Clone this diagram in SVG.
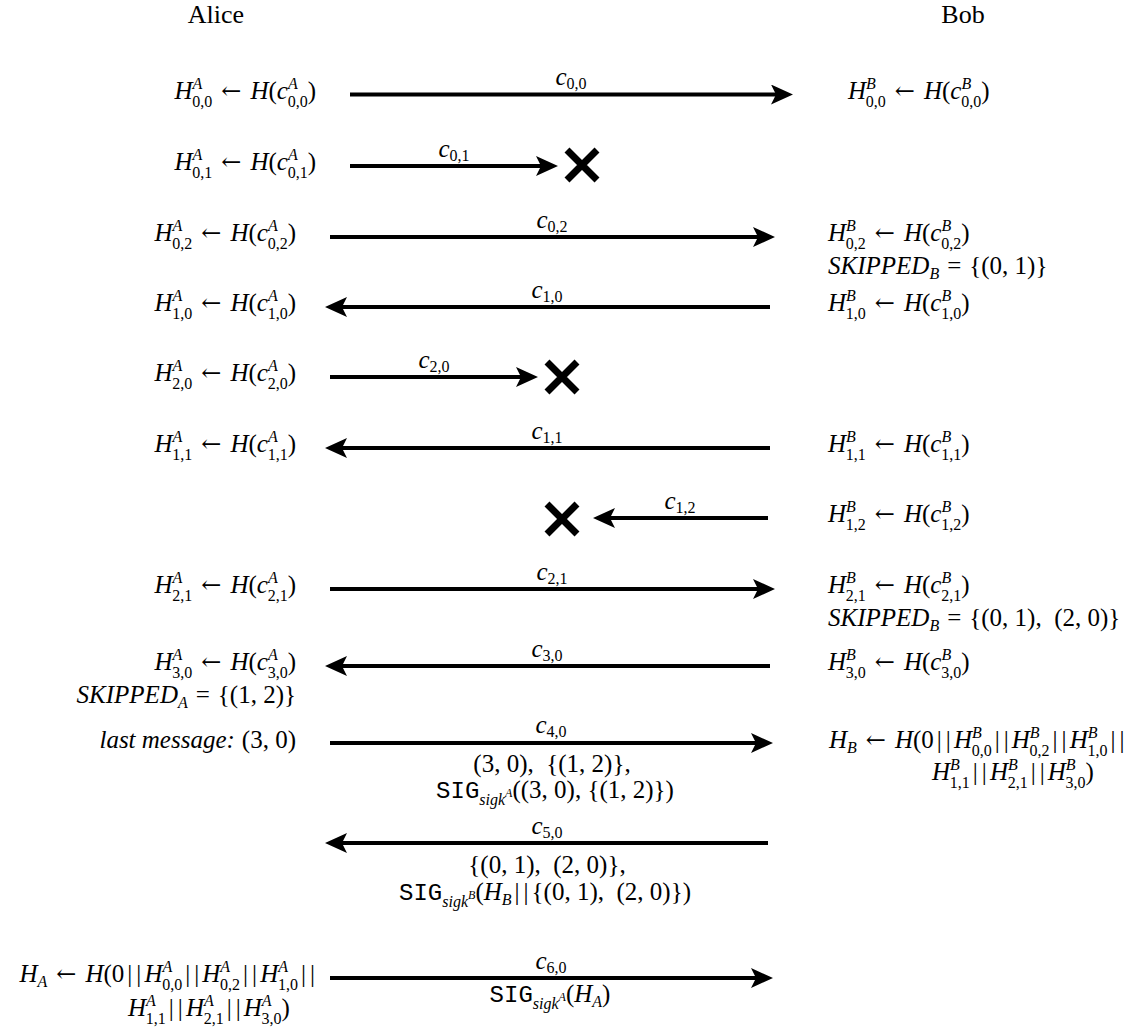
<svg xmlns="http://www.w3.org/2000/svg" width="1138" height="1032" viewBox="0 0 1138 1032">
<style>
text{font-family:"Liberation Serif","DejaVu Serif",serif;font-size:25px;fill:#000}
.i{font-style:italic}
.s{font-size:16px}
.ss{font-size:12px}
.a{font-family:"DejaVu Serif",serif;font-size:24px}
.tt{font-family:"Liberation Mono","DejaVu Sans Mono",monospace;font-size:24px}
.ar{stroke:#000;stroke-width:4;fill:none;marker-end:url(#hd)}
.x{stroke:#000;stroke-width:7;fill:none}
</style>
<defs>
<marker id="hd" markerUnits="userSpaceOnUse" viewBox="0 -10 22 20" markerWidth="22" markerHeight="20" refX="5" refY="0" orient="auto"><path d="M22,0 L0,-10 L5,0 L0,10 Z" fill="#000"/></marker>
<path id="xm" d="M-15,-15 L15,15 M-15,15 L15,-15"/>
</defs>
<rect width="1138" height="1032" fill="#fff"/>
<g id="header">
<text x="216" y="23" text-anchor="middle" style="font-size:26px">Alice</text>
<text x="963" y="23" text-anchor="middle" style="font-size:26px">Bob</text>
</g>
<g id="connectors">
<line class="ar" x1="350" y1="94.5" x2="776" y2="94.5"/>
<line class="ar" x1="350" y1="166" x2="541" y2="166"/>
<line class="ar" x1="330" y1="237" x2="758" y2="237"/>
<line class="ar" x1="770" y1="307" x2="342" y2="307"/>
<line class="ar" x1="330" y1="377" x2="521" y2="377"/>
<line class="ar" x1="770" y1="448" x2="342" y2="448"/>
<line class="ar" x1="768" y1="518" x2="610" y2="518"/>
<line class="ar" x1="330" y1="589" x2="758" y2="589"/>
<line class="ar" x1="770" y1="666" x2="342" y2="666"/>
<line class="ar" x1="330" y1="743" x2="756" y2="743"/>
<line class="ar" x1="768" y1="843" x2="342" y2="843"/>
<line class="ar" x1="330" y1="978" x2="756" y2="978"/>
</g>
<g id="drops">
<use href="#xm" class="x" x="582" y="165"/>
<use href="#xm" class="x" x="562" y="377"/>
<use href="#xm" class="x" x="562" y="519"/>
</g>
<g id="labels">
<text x="571" y="85" text-anchor="middle"><tspan class="i">c</tspan><tspan class="s" dy="4">0,0</tspan></text>
<text x="454" y="157" text-anchor="middle"><tspan class="i">c</tspan><tspan class="s" dy="4">0,1</tspan></text>
<text x="552" y="228" text-anchor="middle"><tspan class="i">c</tspan><tspan class="s" dy="4">0,2</tspan></text>
<text x="547" y="298" text-anchor="middle"><tspan class="i">c</tspan><tspan class="s" dy="4">1,0</tspan></text>
<text x="434" y="368" text-anchor="middle"><tspan class="i">c</tspan><tspan class="s" dy="4">2,0</tspan></text>
<text x="547" y="439" text-anchor="middle"><tspan class="i">c</tspan><tspan class="s" dy="4">1,1</tspan></text>
<text x="680" y="509" text-anchor="middle"><tspan class="i">c</tspan><tspan class="s" dy="4">1,2</tspan></text>
<text x="552" y="580" text-anchor="middle"><tspan class="i">c</tspan><tspan class="s" dy="4">2,1</tspan></text>
<text x="547" y="657" text-anchor="middle"><tspan class="i">c</tspan><tspan class="s" dy="4">3,0</tspan></text>
<text x="551" y="733" text-anchor="middle"><tspan class="i">c</tspan><tspan class="s" dy="4">4,0</tspan></text>
<text x="547" y="834" text-anchor="middle"><tspan class="i">c</tspan><tspan class="s" dy="4">5,0</tspan></text>
<text x="551" y="969" text-anchor="middle"><tspan class="i">c</tspan><tspan class="s" dy="4">6,0</tspan></text>
<text x="552" y="772" text-anchor="middle">(3, 0),&#160;&#160;{(1, 2)},</text>
<text x="555" y="798" text-anchor="middle"><tspan class="tt">SIG</tspan><tspan class="s i" dy="7">sigk</tspan><tspan class="ss i" dy="-8">A</tspan><tspan dy="1">((3, 0), {(1, 2)})</tspan></text>
<text x="547" y="873" text-anchor="middle">{(0, 1),&#160;&#160;(2, 0)},</text>
<text x="545" y="900" text-anchor="middle"><tspan class="tt">SIG</tspan><tspan class="s i" dy="7">sigk</tspan><tspan class="ss i" dy="-8">B</tspan><tspan dy="1">(</tspan><tspan class="i">H</tspan><tspan class="s i" dy="5">B</tspan><tspan dy="-5" dx="3">|</tspan><tspan dx="4">|</tspan><tspan dx="3">{(0, 1),&#160;&#160;(2, 0)})</tspan></text>
<text x="550" y="1002" text-anchor="middle"><tspan class="tt">SIG</tspan><tspan class="s i" dy="7">sigk</tspan><tspan class="ss i" dy="-8">A</tspan><tspan dy="1">(</tspan><tspan class="i">H</tspan><tspan class="s i" dy="5">A</tspan><tspan dy="-5">)</tspan></text>
</g>
<g id="alice">
<text x="316" y="99" text-anchor="end"><tspan class="i">H</tspan><tspan class="s i" dy="-10">A</tspan><tspan class="s" dx="-10" dy="18">0,0</tspan><tspan class="a" dy="-8" dx="9">←</tspan><tspan class="i" dx="9">H</tspan>(<tspan class="i">c</tspan><tspan class="s i" dy="-10">A</tspan><tspan class="s" dx="-10" dy="18">0,0</tspan><tspan dy="-8">)</tspan></text>
<text x="316" y="170" text-anchor="end"><tspan class="i">H</tspan><tspan class="s i" dy="-10">A</tspan><tspan class="s" dx="-10" dy="18">0,1</tspan><tspan class="a" dy="-8" dx="9">←</tspan><tspan class="i" dx="9">H</tspan>(<tspan class="i">c</tspan><tspan class="s i" dy="-10">A</tspan><tspan class="s" dx="-10" dy="18">0,1</tspan><tspan dy="-8">)</tspan></text>
<text x="296" y="241" text-anchor="end"><tspan class="i">H</tspan><tspan class="s i" dy="-10">A</tspan><tspan class="s" dx="-10" dy="18">0,2</tspan><tspan class="a" dy="-8" dx="9">←</tspan><tspan class="i" dx="9">H</tspan>(<tspan class="i">c</tspan><tspan class="s i" dy="-10">A</tspan><tspan class="s" dx="-10" dy="18">0,2</tspan><tspan dy="-8">)</tspan></text>
<text x="296" y="311" text-anchor="end"><tspan class="i">H</tspan><tspan class="s i" dy="-10">A</tspan><tspan class="s" dx="-10" dy="18">1,0</tspan><tspan class="a" dy="-8" dx="9">←</tspan><tspan class="i" dx="9">H</tspan>(<tspan class="i">c</tspan><tspan class="s i" dy="-10">A</tspan><tspan class="s" dx="-10" dy="18">1,0</tspan><tspan dy="-8">)</tspan></text>
<text x="296" y="381" text-anchor="end"><tspan class="i">H</tspan><tspan class="s i" dy="-10">A</tspan><tspan class="s" dx="-10" dy="18">2,0</tspan><tspan class="a" dy="-8" dx="9">←</tspan><tspan class="i" dx="9">H</tspan>(<tspan class="i">c</tspan><tspan class="s i" dy="-10">A</tspan><tspan class="s" dx="-10" dy="18">2,0</tspan><tspan dy="-8">)</tspan></text>
<text x="296" y="452" text-anchor="end"><tspan class="i">H</tspan><tspan class="s i" dy="-10">A</tspan><tspan class="s" dx="-10" dy="18">1,1</tspan><tspan class="a" dy="-8" dx="9">←</tspan><tspan class="i" dx="9">H</tspan>(<tspan class="i">c</tspan><tspan class="s i" dy="-10">A</tspan><tspan class="s" dx="-10" dy="18">1,1</tspan><tspan dy="-8">)</tspan></text>
<text x="296" y="593" text-anchor="end"><tspan class="i">H</tspan><tspan class="s i" dy="-10">A</tspan><tspan class="s" dx="-10" dy="18">2,1</tspan><tspan class="a" dy="-8" dx="9">←</tspan><tspan class="i" dx="9">H</tspan>(<tspan class="i">c</tspan><tspan class="s i" dy="-10">A</tspan><tspan class="s" dx="-10" dy="18">2,1</tspan><tspan dy="-8">)</tspan></text>
<text x="296" y="670" text-anchor="end"><tspan class="i">H</tspan><tspan class="s i" dy="-10">A</tspan><tspan class="s" dx="-10" dy="18">3,0</tspan><tspan class="a" dy="-8" dx="9">←</tspan><tspan class="i" dx="9">H</tspan>(<tspan class="i">c</tspan><tspan class="s i" dy="-10">A</tspan><tspan class="s" dx="-10" dy="18">3,0</tspan><tspan dy="-8">)</tspan></text>
<text x="296" y="703" text-anchor="end"><tspan class="i">SKIPPED</tspan><tspan class="s i" dy="5">A</tspan><tspan dy="-5" dx="8">=</tspan><tspan dx="8">{(1, 2)}</tspan></text>
<text x="296" y="748" text-anchor="end"><tspan class="i">last message:</tspan><tspan dx="7">(3, 0)</tspan></text>
<text x="315" y="982" text-anchor="end"><tspan class="i">H</tspan><tspan class="s i" dy="5">A</tspan><tspan class="a" dy="-5" dx="9">←</tspan><tspan class="i" dx="9">H</tspan><tspan>(0</tspan><tspan dx="3">|</tspan><tspan dx="4">|</tspan><tspan class="i" dx="3">H</tspan><tspan class="s i" dy="-10">A</tspan><tspan class="s" dx="-10" dy="18">0,0</tspan><tspan dy="-8" dx="3">|</tspan><tspan dx="4">|</tspan><tspan class="i" dx="3">H</tspan><tspan class="s i" dy="-10">A</tspan><tspan class="s" dx="-10" dy="18">0,2</tspan><tspan dy="-8" dx="3">|</tspan><tspan dx="4">|</tspan><tspan class="i" dx="3">H</tspan><tspan class="s i" dy="-10">A</tspan><tspan class="s" dx="-10" dy="18">1,0</tspan><tspan dy="-8" dx="3">|</tspan><tspan dx="4">|</tspan></text>
<text x="128" y="1016"><tspan class="i">H</tspan><tspan class="s i" dy="-10">A</tspan><tspan class="s" dx="-10" dy="18">1,1</tspan><tspan dy="-8" dx="3">|</tspan><tspan dx="4">|</tspan><tspan class="i" dx="3">H</tspan><tspan class="s i" dy="-10">A</tspan><tspan class="s" dx="-10" dy="18">2,1</tspan><tspan dy="-8" dx="3">|</tspan><tspan dx="4">|</tspan><tspan class="i" dx="3">H</tspan><tspan class="s i" dy="-10">A</tspan><tspan class="s" dx="-10" dy="18">3,0</tspan><tspan dy="-8">)</tspan></text>
</g>
<g id="bob">
<text x="848" y="99"><tspan class="i">H</tspan><tspan class="s i" dy="-10">B</tspan><tspan class="s" dx="-10" dy="18">0,0</tspan><tspan class="a" dy="-8" dx="9">←</tspan><tspan class="i" dx="9">H</tspan>(<tspan class="i">c</tspan><tspan class="s i" dy="-10">B</tspan><tspan class="s" dx="-10" dy="18">0,0</tspan><tspan dy="-8">)</tspan></text>
<text x="828" y="241"><tspan class="i">H</tspan><tspan class="s i" dy="-10">B</tspan><tspan class="s" dx="-10" dy="18">0,2</tspan><tspan class="a" dy="-8" dx="9">←</tspan><tspan class="i" dx="9">H</tspan>(<tspan class="i">c</tspan><tspan class="s i" dy="-10">B</tspan><tspan class="s" dx="-10" dy="18">0,2</tspan><tspan dy="-8">)</tspan></text>
<text x="828" y="274"><tspan class="i">SKIPPED</tspan><tspan class="s i" dy="5">B</tspan><tspan dy="-5" dx="8">=</tspan><tspan dx="8">{(0, 1)}</tspan></text>
<text x="828" y="311"><tspan class="i">H</tspan><tspan class="s i" dy="-10">B</tspan><tspan class="s" dx="-10" dy="18">1,0</tspan><tspan class="a" dy="-8" dx="9">←</tspan><tspan class="i" dx="9">H</tspan>(<tspan class="i">c</tspan><tspan class="s i" dy="-10">B</tspan><tspan class="s" dx="-10" dy="18">1,0</tspan><tspan dy="-8">)</tspan></text>
<text x="828" y="452"><tspan class="i">H</tspan><tspan class="s i" dy="-10">B</tspan><tspan class="s" dx="-10" dy="18">1,1</tspan><tspan class="a" dy="-8" dx="9">←</tspan><tspan class="i" dx="9">H</tspan>(<tspan class="i">c</tspan><tspan class="s i" dy="-10">B</tspan><tspan class="s" dx="-10" dy="18">1,1</tspan><tspan dy="-8">)</tspan></text>
<text x="828" y="522"><tspan class="i">H</tspan><tspan class="s i" dy="-10">B</tspan><tspan class="s" dx="-10" dy="18">1,2</tspan><tspan class="a" dy="-8" dx="9">←</tspan><tspan class="i" dx="9">H</tspan>(<tspan class="i">c</tspan><tspan class="s i" dy="-10">B</tspan><tspan class="s" dx="-10" dy="18">1,2</tspan><tspan dy="-8">)</tspan></text>
<text x="828" y="593"><tspan class="i">H</tspan><tspan class="s i" dy="-10">B</tspan><tspan class="s" dx="-10" dy="18">2,1</tspan><tspan class="a" dy="-8" dx="9">←</tspan><tspan class="i" dx="9">H</tspan>(<tspan class="i">c</tspan><tspan class="s i" dy="-10">B</tspan><tspan class="s" dx="-10" dy="18">2,1</tspan><tspan dy="-8">)</tspan></text>
<text x="828" y="626"><tspan class="i">SKIPPED</tspan><tspan class="s i" dy="5">B</tspan><tspan dy="-5" dx="8">=</tspan><tspan dx="8">{(0, 1),&#160;&#160;(2, 0)}</tspan></text>
<text x="828" y="670"><tspan class="i">H</tspan><tspan class="s i" dy="-10">B</tspan><tspan class="s" dx="-10" dy="18">3,0</tspan><tspan class="a" dy="-8" dx="9">←</tspan><tspan class="i" dx="9">H</tspan>(<tspan class="i">c</tspan><tspan class="s i" dy="-10">B</tspan><tspan class="s" dx="-10" dy="18">3,0</tspan><tspan dy="-8">)</tspan></text>
<text x="829" y="748"><tspan class="i">H</tspan><tspan class="s i" dy="5">B</tspan><tspan class="a" dy="-5" dx="9">←</tspan><tspan class="i" dx="9">H</tspan><tspan>(0</tspan><tspan dx="3">|</tspan><tspan dx="4">|</tspan><tspan class="i" dx="3">H</tspan><tspan class="s i" dy="-10">B</tspan><tspan class="s" dx="-10" dy="18">0,0</tspan><tspan dy="-8" dx="3">|</tspan><tspan dx="4">|</tspan><tspan class="i" dx="3">H</tspan><tspan class="s i" dy="-10">B</tspan><tspan class="s" dx="-10" dy="18">0,2</tspan><tspan dy="-8" dx="3">|</tspan><tspan dx="4">|</tspan><tspan class="i" dx="3">H</tspan><tspan class="s i" dy="-10">B</tspan><tspan class="s" dx="-10" dy="18">1,0</tspan><tspan dy="-8" dx="3">|</tspan><tspan dx="4">|</tspan></text>
<text x="932" y="780"><tspan class="i">H</tspan><tspan class="s i" dy="-10">B</tspan><tspan class="s" dx="-10" dy="18">1,1</tspan><tspan dy="-8" dx="3">|</tspan><tspan dx="4">|</tspan><tspan class="i" dx="3">H</tspan><tspan class="s i" dy="-10">B</tspan><tspan class="s" dx="-10" dy="18">2,1</tspan><tspan dy="-8" dx="3">|</tspan><tspan dx="4">|</tspan><tspan class="i" dx="3">H</tspan><tspan class="s i" dy="-10">B</tspan><tspan class="s" dx="-10" dy="18">3,0</tspan><tspan dy="-8">)</tspan></text>
</g>
</svg>
